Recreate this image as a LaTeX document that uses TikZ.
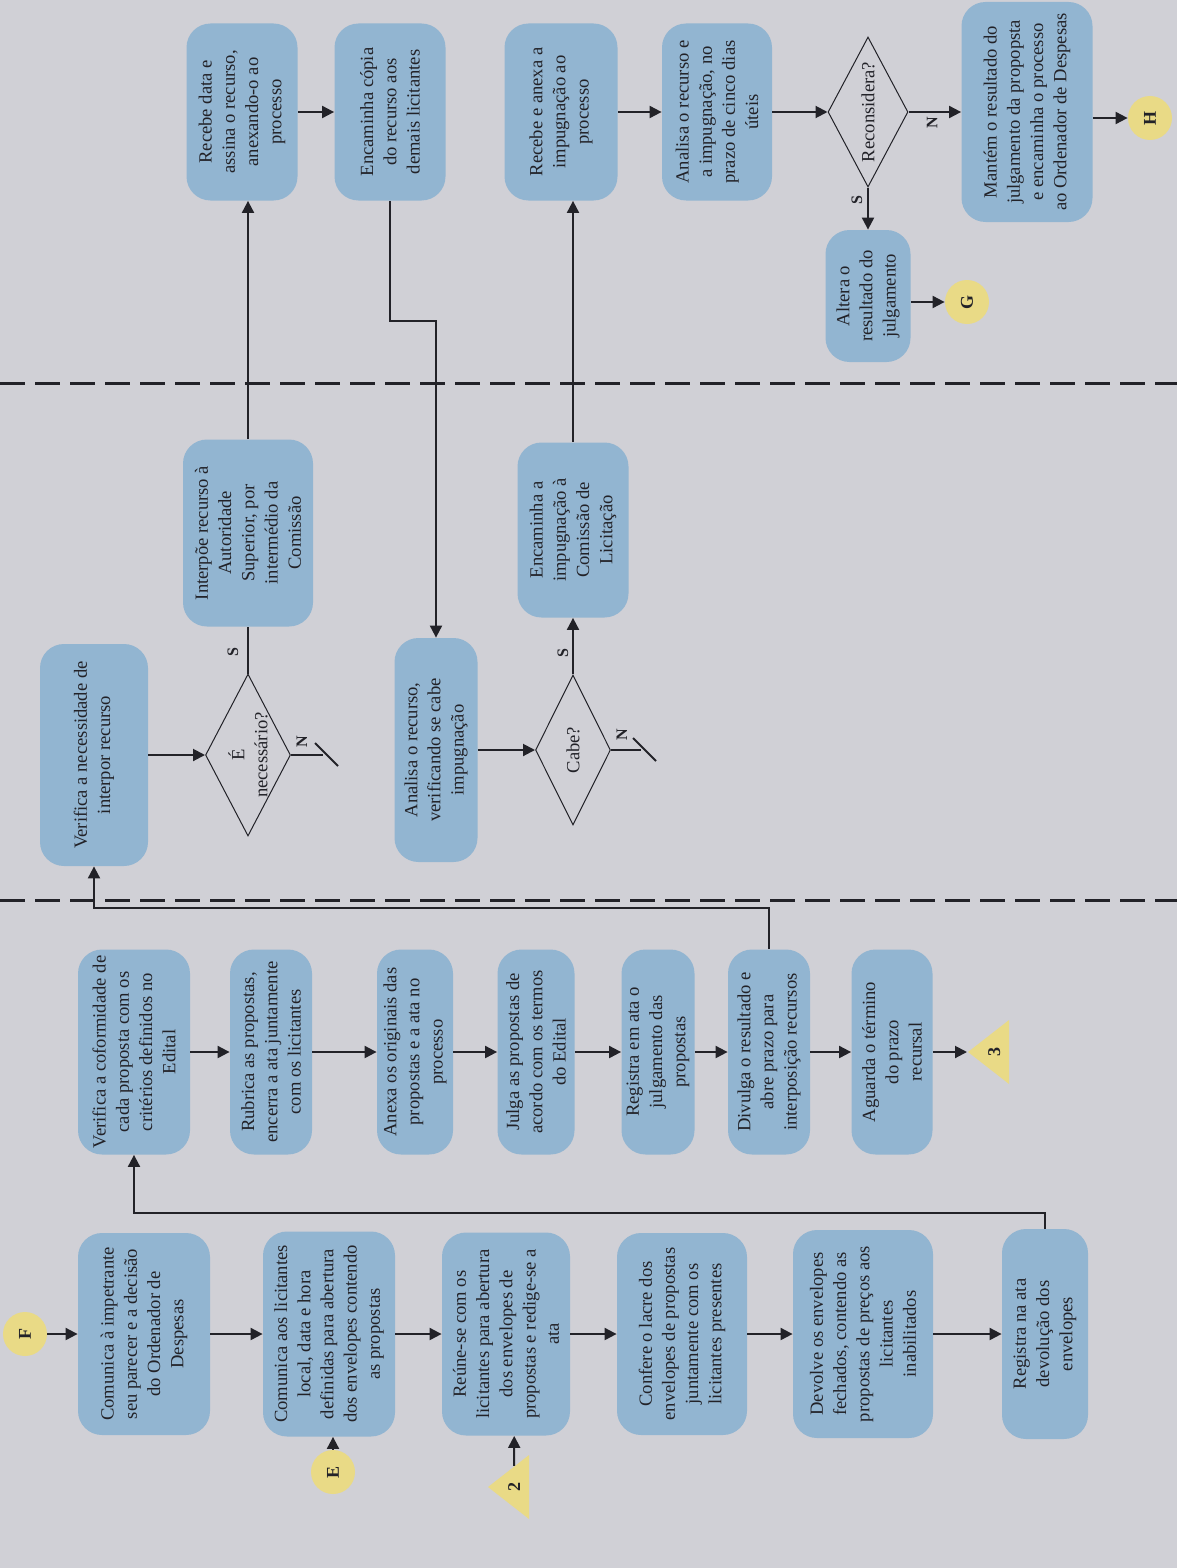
\documentclass[tikz,border=0pt]{standalone}
\usepackage{fontspec}
\setmainfont{Liberation Serif}
\usetikzlibrary{shapes.geometric, arrows.meta, calc}

\definecolor{fundo}{RGB}{208,208,214}
\definecolor{caixa}{RGB}{146,181,209}
\definecolor{amarelo}{RGB}{233,218,134}
\definecolor{tinta}{RGB}{34,34,40}

\tikzstyle{etapa}=[rectangle, rounded corners=12pt, fill=caixa, rotate=90,
                   align=center, inner sep=2pt, text=tinta,
                   font=\fontsize{9.3}{11.6}\selectfont]
\tikzstyle{decisao}=[diamond, draw=tinta, line width=0.5pt, rotate=90,
                     inner sep=0pt, aspect=2]
\tikzstyle{texto}=[rotate=90, align=center, text=tinta, inner sep=0pt,
                   font=\fontsize{9.3}{11.6}\selectfont]
\tikzstyle{conector}=[circle, fill=amarelo, minimum size=22pt, inner sep=0pt,
                      rotate=90, text=tinta, font=\bfseries\small]
\tikzstyle{pagina}=[isosceles triangle, isosceles triangle stretches,
                    shape border rotate=180, fill=amarelo, inner sep=0pt,
                    minimum width=32pt, minimum height=20.5pt,
                    text=tinta, font=\bfseries\small]
\tikzstyle{rotulo}=[rotate=90, inner sep=0pt, text=tinta, font=\bfseries\footnotesize]
\tikzstyle{seta}=[-{Triangle[length=6pt,width=6pt]}, line width=1pt, draw=tinta]
\tikzstyle{linha}=[line width=1pt, draw=tinta]
\tikzstyle{raia}=[dash pattern=on 12.5pt off 5pt, line width=1.5pt, draw=tinta]

\begin{document}
\begin{tikzpicture}[x=0.5pt, y=-0.5pt]

\useasboundingbox (0,0) rectangle (1177,1568);
\fill[fundo] (0,0) rectangle (1177,1568);

%%%%%%%%%%%%%%%%%%
% raias
\draw[raia] (0,383) -- (1177,383);
\draw[raia] (0,900) -- (1177,900);

%%%%%%%%%%%%%%%%%%
% raia de baixo, primeira coluna
\node (F) at (25,1334) [conector] {F};

\node (b1) at (144,1334) [etapa, minimum width=101pt, minimum height=66pt] {Comunica à impetrante\\seu parecer e a decisão\\do Ordenador de\\Despesas};

\node (b2) at (329,1334) [etapa, minimum width=102.5pt, minimum height=66pt] {Comunica aos licitantes\\local, data e hora\\definidas para abertura\\dos envelopes contendo\\as propostas};

\node (E) at (333,1472) [conector] {E};

\node (b3) at (506,1334) [etapa, minimum width=101.5pt, minimum height=64pt] {Reúne-se com os\\licitantes para abertura\\dos envelopes de\\propostas e redige-se a\\ata};

\node (t2) at (487,1487) [pagina, anchor=apex] {\rotatebox{90}{2}};

\node (b4) at (682,1334) [etapa, minimum width=101pt, minimum height=65pt] {Confere o lacre dos\\envelopes de propostas\\juntamente com os\\licitantes presentes};

\node (b5) at (863,1334) [etapa, minimum width=104pt, minimum height=70pt] {Devolve os envelopes\\fechados, contendo as\\propostas de preços aos\\licitantes\\inabilitados};

\node (b6) at (1045,1334) [etapa, minimum width=105pt, minimum height=43pt] {Registra na ata\\devolução dos\\envelopes};

%%%%%%%%%%%%%%%%%%
% raia de baixo, segunda coluna
\node (b7) at (134,1052) [etapa, minimum width=102.5pt, minimum height=56pt] {Verifica a coformidade de\\cada proposta com os\\critérios definidos no\\Edital};

\node (b8) at (271,1052) [etapa, minimum width=102.5pt, minimum height=41pt] {Rubrica as propostas,\\encerra a ata juntamente\\com os licitantes};

\node (b9) at (415,1052) [etapa, minimum width=102.5pt, minimum height=38pt] {Anexa os originais das\\propostas e a ata no\\processo};

\node (b10) at (536,1052) [etapa, minimum width=102.5pt, minimum height=38.5pt] {Julga as propostas de\\acordo com os termos\\do Edital};

\node (b11) at (658,1052) [etapa, minimum width=102.5pt, minimum height=36.5pt] {Registra em ata o\\julgamento das\\propostas};

\node (b12) at (769,1052) [etapa, minimum width=102.5pt, minimum height=41pt] {Divulga o resultado e\\abre prazo para\\interposição recursos};

\node (b13) at (892,1052) [etapa, minimum width=102.5pt, minimum height=40.5pt] {Aguarda o término\\do prazo\\recursal};

\node (t3) at (967,1052) [pagina, anchor=apex] {\rotatebox{90}{3}};

%%%%%%%%%%%%%%%%%%
% raia do meio
\node (b14) at (94,755) [etapa, minimum width=111pt, minimum height=54pt] {Verifica a necessidade de\\interpor recurso};

\node (d1) at (248,755) [decisao, minimum width=81pt, minimum height=42.5pt] {};
\node (d1t) at (d1) [texto] {É\\necessário?};

\node (b15) at (248,533) [etapa, minimum width=93.5pt, minimum height=65pt] {Interpõe recurso à\\Autoridade\\Superior, por\\intermédio da\\Comissão};

\node (b18) at (436,750) [etapa, minimum width=112pt, minimum height=41.5pt] {Analisa o recurso,\\verificando se cabe\\impugnação};

\node (d2) at (573,750) [decisao, minimum width=75pt, minimum height=37.5pt] {};
\node (d2t) at (d2) [texto] {Cabe?};

\node (b19) at (573,530) [etapa, minimum width=87.5pt, minimum height=55.5pt] {Encaminha a\\impugnação à\\Comissão de\\Licitação};

%%%%%%%%%%%%%%%%%%
% raia de cima
\node (b16) at (242,112) [etapa, minimum width=88.5pt, minimum height=55.5pt] {Recebe data e\\assina o recurso,\\anexando-o ao\\processo};

\node (b17) at (390,112) [etapa, minimum width=88.5pt, minimum height=55.5pt] {Encaminha cópia\\do recurso aos\\demais licitantes};

\node (b20) at (561,112) [etapa, minimum width=88.5pt, minimum height=56.5pt] {Recebe e anexa a\\impugnação ao\\processo};

\node (b21) at (717,112) [etapa, minimum width=88.5pt, minimum height=55pt] {Analisa o recurso e\\a impugnação, no\\prazo de cinco dias\\úteis};

\node (d3) at (868,112) [decisao, minimum width=75pt, minimum height=40pt] {};
\node (d3t) at (d3) [texto] {Reconsidera?};

\node (b22) at (1027,112) [etapa, minimum width=110pt, minimum height=65.5pt] {Mantém o resultado do\\julgamento da propopsta\\e encaminha o processo\\ao Ordenador de Despesas};

\node (H) at (1150,118) [conector] {H};

\node (b23) at (868,296) [etapa, minimum width=66pt, minimum height=42.5pt] {Altera o\\resultado do\\julgamento};

\node (G) at (967,302) [conector] {G};

%%%%%%%%%%%%%%%%%%
% rotulos S / N
\node (s1) at (233,652) [rotulo] {S};
\node (n1) at (302,742) [rotulo] {N};
\node (s2) at (563,653) [rotulo] {S};
\node (n2) at (622,735) [rotulo] {N};
\node (s3) at (857,200) [rotulo] {S};
\node (n3) at (932,123) [rotulo] {N};

\coordinate (nf1) at (323,755);
\coordinate (nf2) at (641,750);

%%%%%%%%%%%%%%%%%%%%
%%%%%%%%%%%%%%%%%%%%
\draw[seta] (F) -- (b1);
\draw[seta] (b1) -- (b2);
\draw[seta] (E) -- (E |- b2.west);
\draw[seta] (b2) -- (b3);
\draw[seta] (t2) -- (t2 |- b3.west);
\draw[seta] (b3) -- (b4);
\draw[seta] (b4) -- (b5);
\draw[seta] (b5) -- (b6);
\draw[seta] (b6.east) -- ++(0,-16) -| (b7.west);

%%%%%%%%%%%%%%%%%%%%
\draw[seta] (b7) -- (b8);
\draw[seta] (b8) -- (b9);
\draw[seta] (b9) -- (b10);
\draw[seta] (b10) -- (b11);
\draw[seta] (b11) -- (b12);
\draw[seta] (b12) -- (b13);
\draw[seta] (b13) -- (t3.apex);
\draw[seta] (b12.east) -- ++(0,-41) -| (b14.west);

%%%%%%%%%%%%%%%%%%%%
\draw[seta] (b14) -- (d1);
\draw[linha] (d1) -- (b15);
\draw[linha] (d1) -- (nf1);
\draw[linha] ($(nf1)+(-8,-12)$) -- ($(nf1)+(15,11)$);
\draw[seta] (b15) -- (b15 |- b16.west);
\draw[seta] (b16) -- (b17);
\draw[seta] (b17.west) -- ++(0,120) -| (b18.east);

%%%%%%%%%%%%%%%%%%%%
\draw[seta] (b18) -- (d2);
\draw[seta] (d2) -- (b19);
\draw[linha] (d2) -- (nf2);
\draw[linha] ($(nf2)+(-8,-12)$) -- ($(nf2)+(15,11)$);
\draw[seta] (b19) -- (b19 |- b20.west);
\draw[seta] (b20) -- (b21);
\draw[seta] (b21) -- (d3);
\draw[seta] (d3) -- (b22);
\draw[seta] (d3) -- (b23);
\draw[seta] (b22.south |- H) -- (H);
\draw[seta] (b23.south |- G) -- (G);

\end{tikzpicture}
\end{document}
